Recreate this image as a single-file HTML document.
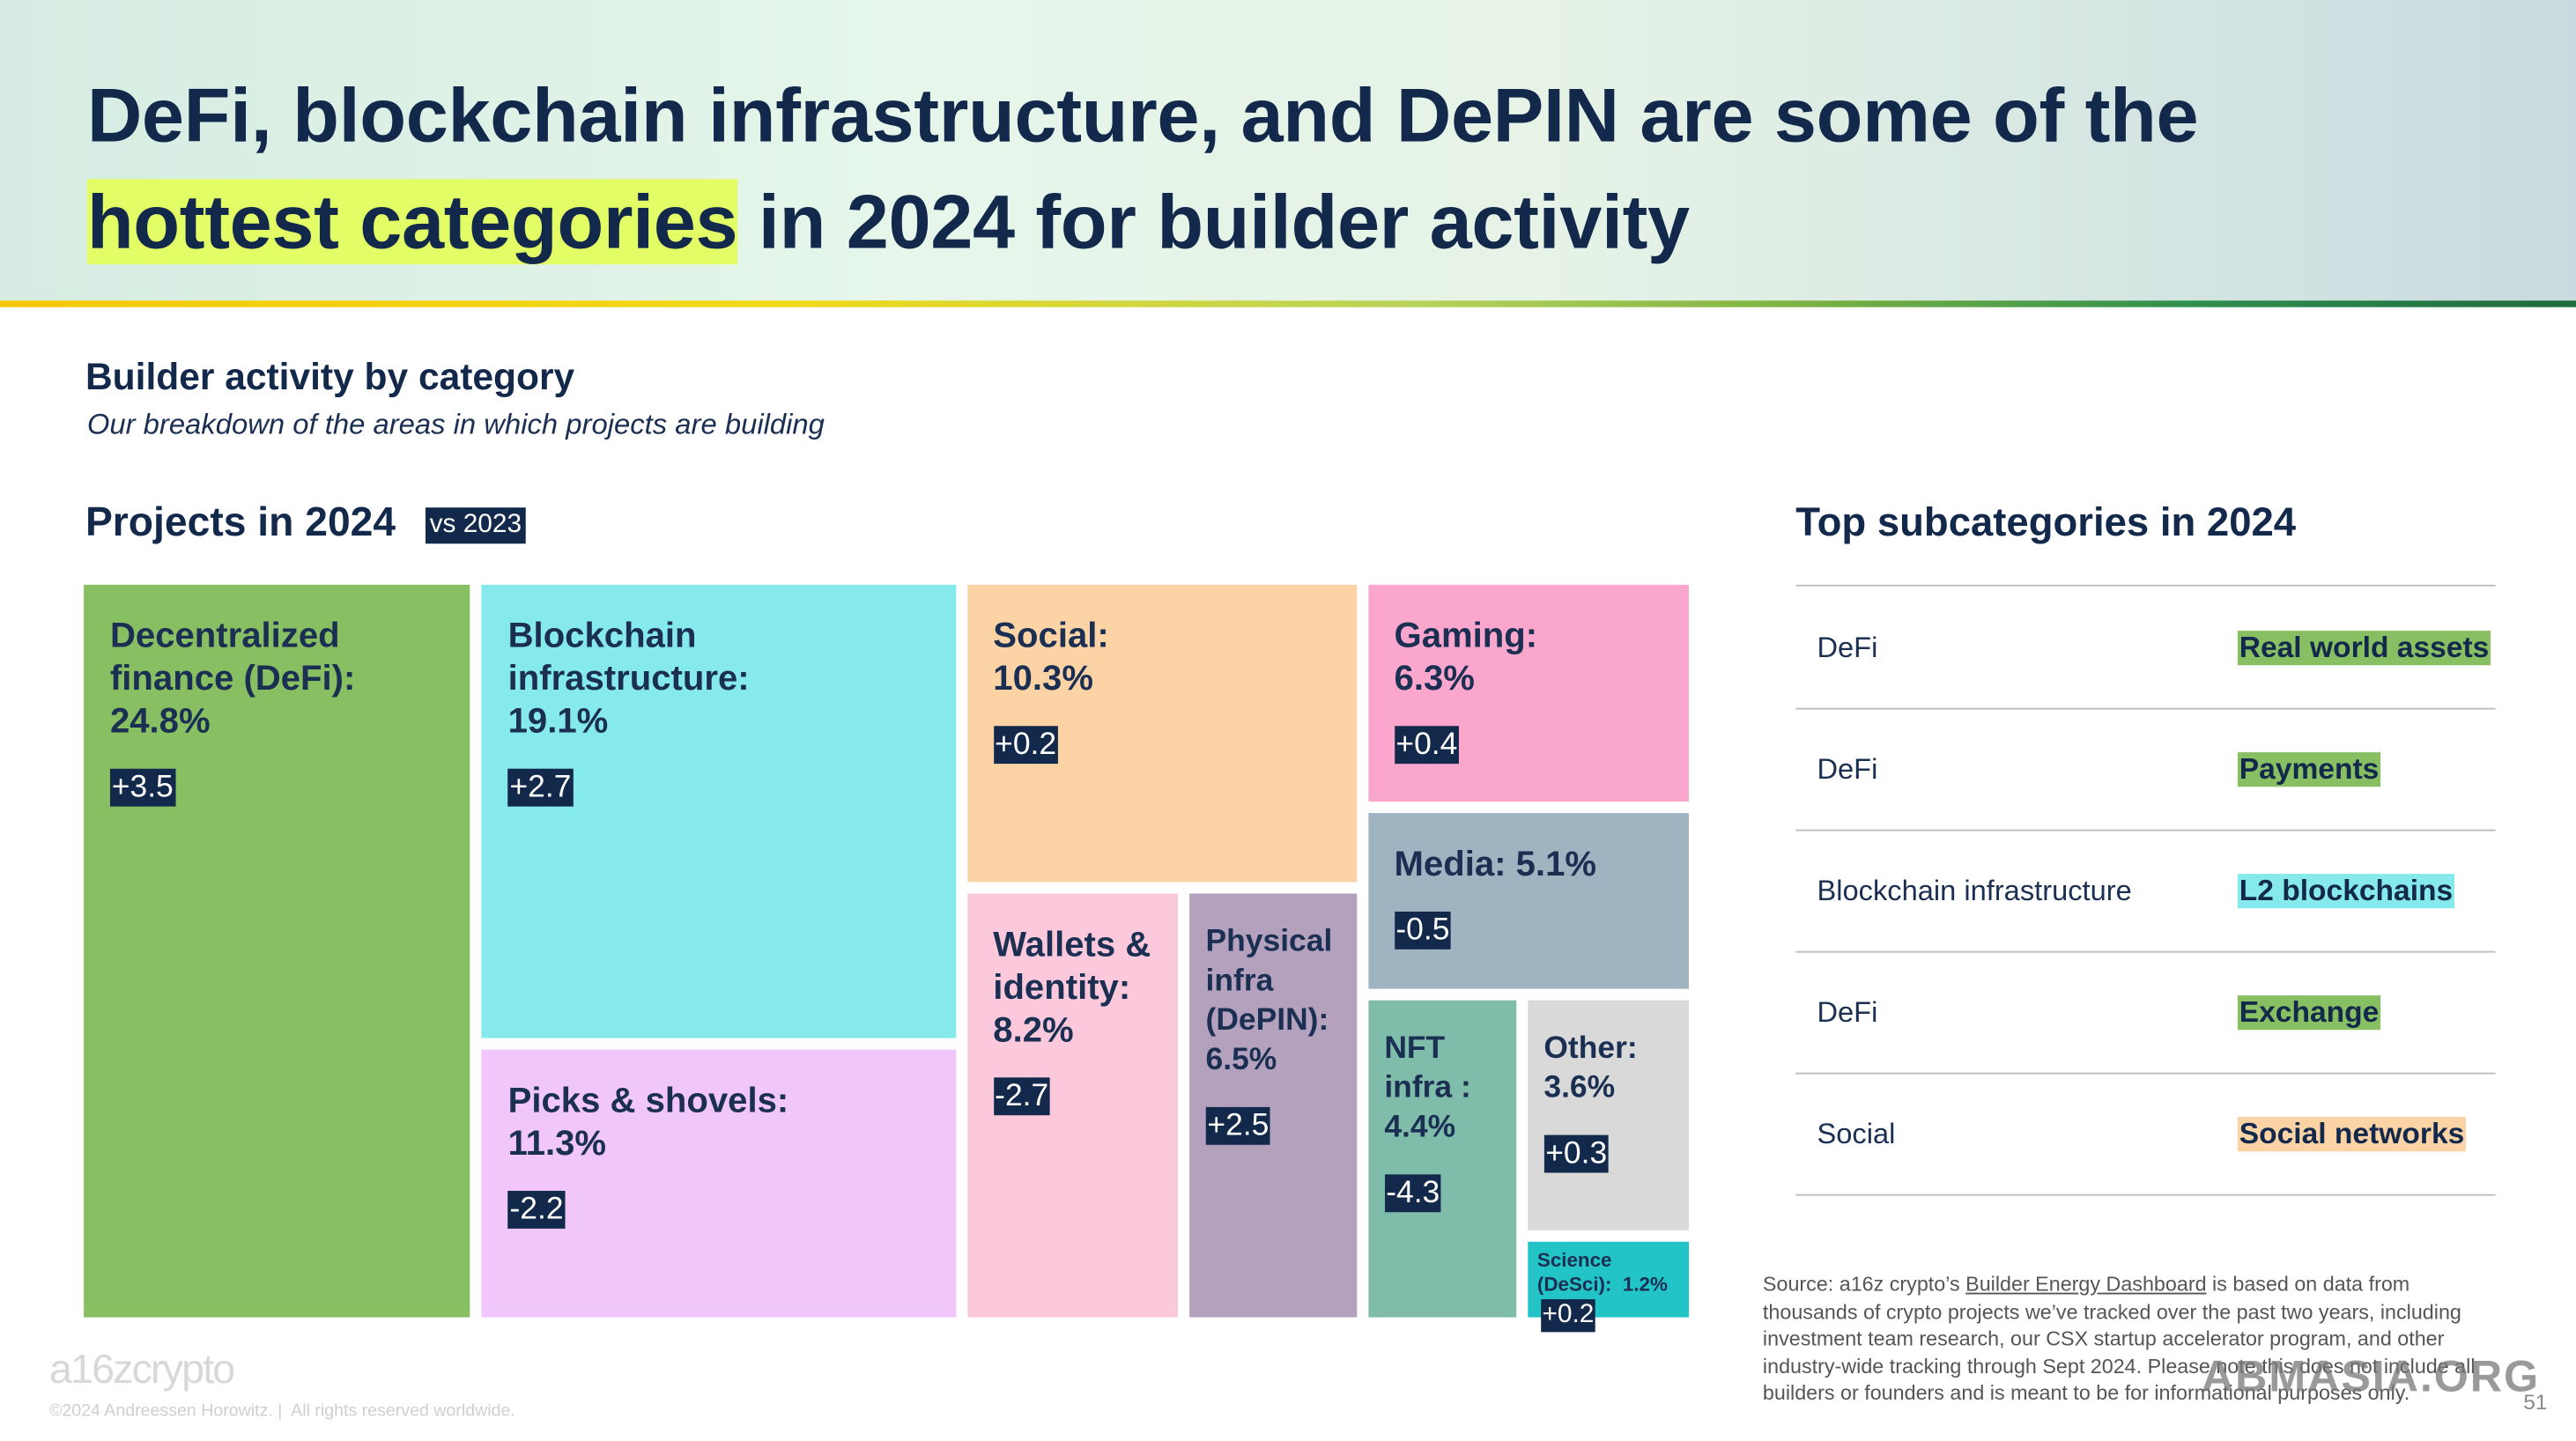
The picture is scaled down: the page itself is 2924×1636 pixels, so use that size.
<!DOCTYPE html>
<html><head><meta charset="utf-8">
<style>
html,body{margin:0;padding:0;background:#fff;}
body{width:2924px;height:1636px;overflow:hidden;position:relative;}
#stage{position:absolute;left:0;top:0;width:1568px;height:877px;transform:scale(1.86480);transform-origin:0 0;font-family:"Liberation Sans",sans-serif;color:#13294b;}
.abs{position:absolute;}
#hdr{left:0;top:0;width:1568px;height:183px;background:linear-gradient(90deg,#d6ece2 0%,#e6f6ea 35%,#e6f3e6 60%,#c9dbe0 100%);}
#bar{left:0;top:183px;width:1568px;height:4px;background:linear-gradient(90deg,#f5c800 0%,#f1d916 30%,#b7d35a 55%,#7cb242 70%,#2e8f4e 85%,#1f6b3c 100%);}
.title{left:53px;font-size:46.4px;font-weight:bold;white-space:nowrap;letter-spacing:-0.2px;}
.hl{background:#e2fd66;}
.tile{position:absolute;box-sizing:border-box;padding:18px 0 0 16px;}
.lbl{font-weight:bold;font-size:21.5px;line-height:26px;color:#1b2f52;}
.dlt{display:inline-block;background:#13294b;color:#fff;font-size:19px;line-height:23px;padding:0 1px;margin-top:16px;}
.row{position:absolute;left:1093px;width:426px;height:74px;border-bottom:1px solid #bdbdbd;}
.rl{position:absolute;left:13px;top:27px;font-size:17.5px;color:#1b2f52;}
.rr{position:absolute;left:269px;top:27px;font-size:18px;font-weight:bold;color:#13294b;padding:0 1px;}
</style></head>
<body>
<div id="stage">
<div id="hdr" class="abs"></div>
<div id="bar" class="abs"></div>
<div class="abs title" style="top:43px">DeFi, blockchain infrastructure, and DePIN are some of the</div>
<div class="abs title" style="top:108px"><span class="hl">hottest categories</span> in 2024 for builder activity</div>

<div class="abs" style="left:52px;top:216px;font-size:22.8px;font-weight:bold">Builder activity by category</div>
<div class="abs" style="left:53px;top:248px;font-size:17.6px;font-style:italic;color:#1b2f52">Our breakdown of the areas in which projects are building</div>

<div class="abs" style="left:52px;top:305px;font-size:24.8px;font-weight:bold">Projects in 2024</div>
<div class="abs" style="left:259px;top:309px;width:61px;height:22px;background:#13294b;color:#fff;font-size:16px;line-height:22px;text-align:center">vs 2023</div>

<div class="abs" style="left:1093px;top:305px;font-size:24.4px;font-weight:bold">Top subcategories in 2024</div>
<div class="abs" style="left:1093px;top:356px;width:426px;height:1px;background:#bdbdbd"></div>
<div id="table"></div>

<div id="treemap" class="abs" style="left:0;top:0"></div>

<div class="abs" style="left:1073px;top:774px;width:440px;font-size:12.5px;line-height:16.6px;color:#555">Source: a16z crypto’s <u>Builder Energy Dashboard</u> is based on data from thousands of crypto projects we’ve tracked over the past two years, including investment team research, our CSX startup accelerator program, and other industry-wide tracking through Sept 2024. Please note this does not include all builders or founders and is meant to be for informational purposes only.</div>
<div class="abs" style="left:1536px;top:846px;font-size:13px;color:#888">51</div>
<div class="abs" style="left:30px;top:820px;font-size:25px;color:#d8d8d8;letter-spacing:-1px">a16zcrypto</div>
<div class="abs" style="left:30px;top:853px;font-size:10.5px;color:#cfcfcf">©2024 Andreessen Horowitz. |&nbsp; All rights reserved worldwide.</div>
<div class="abs" style="left:1340px;top:823px;font-size:27px;font-weight:bold;color:rgba(120,120,120,0.75);letter-spacing:1px">ABMASIA.ORG</div>
</div>

<script>
// Treemap data
const categories = ["DeFi","Blockchain infrastructure","Picks & shovels","Social","Wallets & identity","Physical infra (DePIN)","Gaming","Media","NFT infra","Other","Science (DeSci)"];
const labels = ["Decentralized|finance (DeFi):|24.8%","Blockchain|infrastructure:|19.1%","Picks & shovels:|11.3%","Social:|10.3%","Wallets &|identity:|8.2%","Physical|infra|(DePIN):|6.5%","Gaming:|6.3%","Media: 5.1%","NFT|infra :|4.4%","Other:|3.6%","Science|(DeSci):&nbsp; 1.2%"];
const shares = [24.8,19.1,11.3,10.3,8.2,6.5,6.3,5.1,4.4,3.6,1.2];
const deltas = ["+3.5","+2.7","-2.2","+0.2","-2.7","+2.5","+0.4","-0.5","-4.3","+0.3","+0.2"];
const colors = ["#88bf62","#86e9ec","#f0c6fb","#fcd3a5","#fcc9dc","#b3a1bd","#fba6cd","#9fb3c1","#7fbcaa","#d9d9d9","#22c4c8"];

// Subcategory table data
const subParents = ["DeFi","DeFi","Blockchain infrastructure","DeFi","Social"];
const subNames = ["Real world assets","Payments","L2 blockchains","Exchange","Social networks"];
const subColors = ["#88bf62","#88bf62","#86e9ec","#88bf62","#fcd3a5"];

// Layout tree (indices into arrays): h = side by side, v = stacked
const tree = {d:"h",c:[0,{d:"v",c:[1,2]},{d:"v",c:[3,{d:"h",c:[4,5]}]},{d:"v",c:[6,7,{d:"h",c:[8,{d:"v",c:[9,10]}]}]}]};
const GAP=7, X0=51, Y0=356, W=977, H=446;
function sumNode(n){return typeof n==="number"?shares[n]:n.c.reduce((a,b)=>a+sumNode(b),0);}
function layout(n,x,y,w,h,out){
  if(typeof n==="number"){out.push({i:n,x,y,w,h});return;}
  const tot=sumNode(n), k=n.c.length;
  const avail=(n.d==="h"?w:h)-GAP*(k-1);
  let p=n.d==="h"?x:y;
  n.c.forEach(ch=>{
    const s=avail*sumNode(ch)/tot;
    if(n.d==="h")layout(ch,p,y,s,h,out);else layout(ch,x,p,w,s,out);
    p+=s+GAP;
  });
}
const rects=[];layout(tree,X0,Y0,W,H,rects);
const tm=document.getElementById('treemap');
rects.forEach(r=>{
  const t=document.createElement('div');
  t.className='tile';
  
  
  t.style.left=r.x+'px';t.style.top=r.y+'px';t.style.width=r.w+'px';t.style.height=r.h+'px';
  t.style.background=colors[r.i];
  const small=r.i===10;
  if(small){t.style.padding='4px 0 0 6px';}
  if(r.w<110&&!small){t.style.paddingLeft='10px';}
  const l=document.createElement('div');
  l.className='lbl';
  
  
  if(small){l.style.fontSize='12px';l.style.lineHeight='15px';}
  else if(r.w<110){l.style.fontSize='19px';l.style.lineHeight='24px';}
  l.innerHTML=labels[r.i].split('|').join('<br>');
  t.appendChild(l);
  const d=document.createElement('div');
  d.className='dlt';
  
  
  if(small){d.style.marginTop='1px';d.style.fontSize='16px';d.style.lineHeight='20px';d.style.marginLeft='2px';}
  d.textContent=deltas[r.i];
  t.appendChild(d);
  tm.appendChild(t);
});

const tb=document.getElementById('table');
subNames.forEach((s,i)=>{
  const row=document.createElement('div');
  row.className='row';
  
  
  row.style.top=(357+i*74)+'px';
  const a=document.createElement('div');a.className='rl';a.textContent=subParents[i];
  
  
  const b=document.createElement('div');b.className='rr';b.textContent=s;b.style.background=subColors[i];
  
  
  row.appendChild(a);row.appendChild(b);tb.appendChild(row);
});
</script>
</body></html>
